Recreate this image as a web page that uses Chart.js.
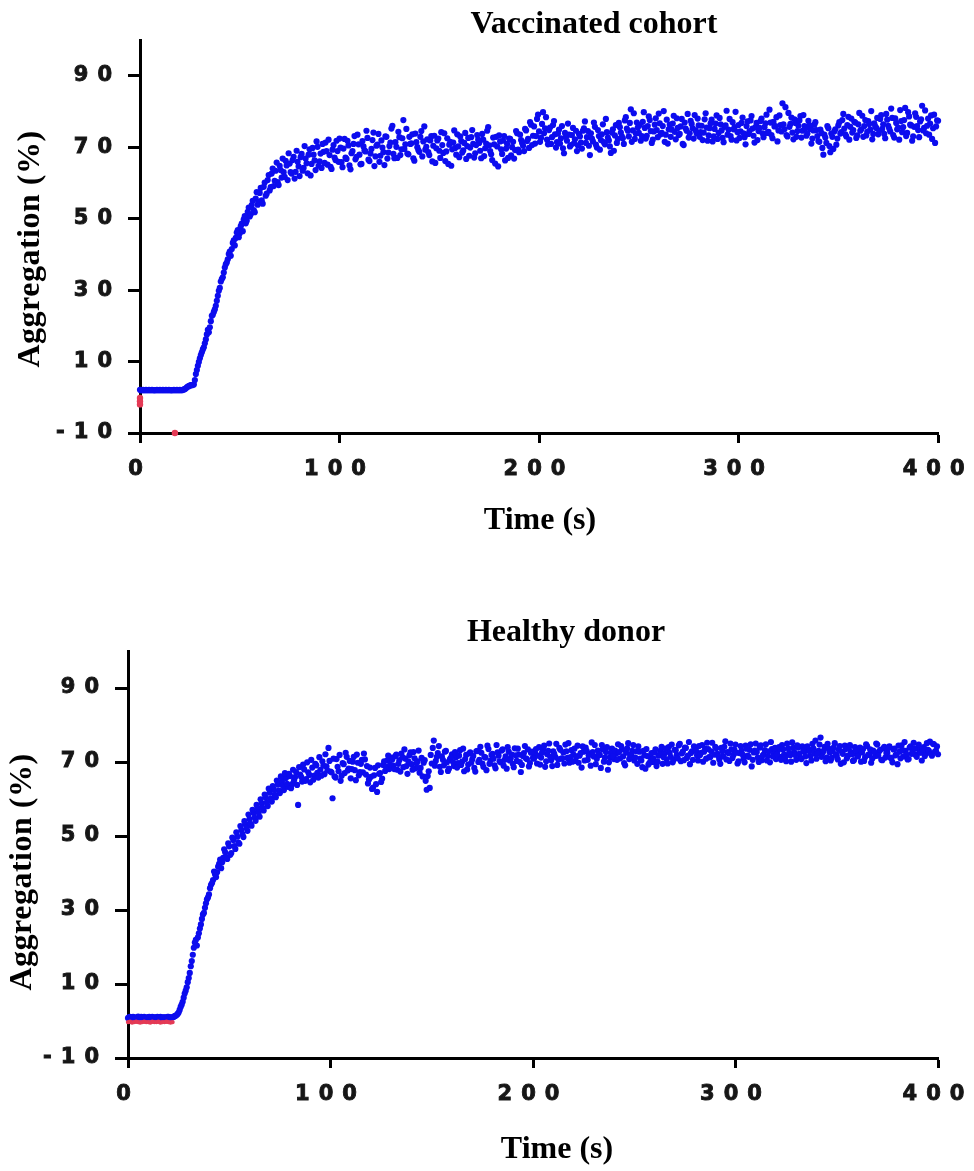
<!DOCTYPE html>
<html>
<head>
<meta charset="utf-8">
<script src="https://cdn.jsdelivr.net/npm/chart.js@4.4.1/dist/chart.umd.min.js"></script>
<style>
html,body{margin:0;padding:0;background:#fff;}
body{width:974px;height:1171px;position:relative;overflow:hidden;}
.box{position:absolute;left:0;width:974px;}
#b1{top:0;height:580px;}
#b2{top:590px;height:581px;}
</style>
</head>
<body>
<div class="box" id="b1"><canvas id="c1" width="974" height="580"></canvas></div>
<div class="box" id="b2"><canvas id="c2" width="974" height="581"></canvas></div>
<script>
// ---- data ----
const yTicks = [-10, 10, 30, 50, 70, 90];
const xTicks = [0, 100, 200, 300, 400];
const sampleIntervalSeconds = 1;     // readings at t = 0, 1, 2 ... 400 s
const halfSampleOffsetSeconds = 0.5; // interleaved readings at t = 0.5, 1.5 ... 399.5 s

// Vaccinated cohort, readings on the whole second
const vaccinatedAggregation = [
2.1,2.0,2.0,2.1,2.0,2.0,2.1,2.0,2.0,2.0,2.1,2.0,2.0,2.1,2.0,2.0,2.0,2.1,2.0,2.0,2.1,2.0,
2.2,2.5,3.0,3.3,3.4,3.6,
6.5,8.8,10.9,12.6,14.0,16.2,18.9,19.6,22.8,23.9,
25.6,28.4,30.6,33.1,34.9,37.2,38.6,40.8,41.5,43.9,
44.6,46.8,45.9,48.6,49.8,48.7,51.9,50.6,53.8,52.4,
55.6,53.9,57.2,55.1,58.9,56.4,60.8,57.9,62.6,59.1,
63.4,60.2,64.8,61.5,63.0,66.2,60.8,65.4,62.6,67.3,
63.1,65.9,61.9,68.1,64.2,66.8,62.7,69.4,65.3,67.9,
63.6,70.1,66.0,64.2,68.7,71.3,65.1,67.8,63.9,70.6,
66.4,68.9,72.4,
65.8,69.6,67.1,71.8,64.9,68.3,70.9,66.6,73.5,67.9,
65.3,70.2,68.8,72.6,66.1,69.5,74.1,67.4,70.7,65.9,
71.9,68.6,73.0,66.8,70.3,75.2,68.1,71.4,67.0,72.8,
69.4,77.6,70.8,68.2,72.9,71.1,66.9,73.8,70.0,68.7,
74.5,71.6,69.3,72.2,67.8,73.1,70.4,65.6,71.9,69.0,
74.2,68.4,66.1,72.5,70.7,64.8,71.3,69.8,73.6,67.2,
71.7,69.1,74.0,70.3,67.6,72.8,70.9,68.3,73.4,71.2,
66.9,72.1,69.7,74.6,70.5,68.0,72.7,65.4,70.2,73.3,
69.4,71.8,66.3,70.9,72.4,67.7,71.5,69.2,73.9,68.6,
72.0,70.4,75.1,71.7,69.8,76.3,73.2,71.0,77.9,74.4,
72.6,79.8,75.3,72.1,74.8,70.9,76.2,73.6,71.4,74.9,
72.5,69.7,74.0,71.8,73.5,70.6,75.4,72.2,68.9,73.7,
71.3,74.6,77.2,72.8,70.4,73.9,71.6,75.7,69.9,73.1,
72.0,76.4,70.8,74.2,71.9,68.4,75.0,73.3,71.2,76.8,
74.1,72.5,77.5,75.2,73.0,80.6,74.7,72.3,76.9,74.0,
71.8,77.1,75.4,73.2,78.6,74.5,72.1,76.3,74.8,79.4,
73.6,75.9,71.5,77.7,75.0,72.9,76.6,74.3,78.1,73.4,
75.8,70.9,76.9,74.6,72.7,77.4,75.3,79.0,73.8,76.1,
74.2,72.0,77.8,75.5,73.3,76.7,71.6,75.1,78.9,74.0,
76.4,72.6,75.7,80.2,74.9,73.1,77.0,75.6,71.9,76.2,
74.4,78.3,72.8,75.9,73.7,77.5,75.2,71.3,76.8,74.5,
77.3,73.9,75.6,79.1,74.3,76.9,72.5,75.8,78.4,74.7,
76.2,82.3,75.0,73.4,79.6,76.5,74.1,77.8,72.9,76.0,
78.7,74.6,75.9,73.2,77.4,75.1,72.4,76.3,74.8,71.7,
74.9,69.8,73.5,71.2,75.3,68.6,72.9,74.4,70.7,76.1,
73.8,77.6,75.2,73.0,78.5,75.7,74.1,77.1,72.6,76.4,
74.6,78.8,75.9,73.3,77.3,74.9,72.2,76.7,75.4,73.6,
77.9,75.1,73.7,79.3,76.0,74.4,78.2,72.7,76.8,75.5,
80.4,74.2,77.6,73.1,79.8,76.3,71.8,75.7,78.5,74.8,
77.2,81.6,75.4,73.9,78.0,76.6,72.3,79.1,75.8,77.4
];

// Vaccinated cohort, readings on the half second
const vaccinatedAggregationHalf = [
2.0,2.1,2.0,2.0,2.1,2.0,2.0,2.0,2.1,2.0,2.0,2.1,2.0,2.0,2.1,2.0,2.0,2.0,2.1,2.0,2.0,2.1,
2.3,2.8,3.1,3.4,3.5,4.8,
7.6,9.9,11.8,13.4,15.1,17.6,18.2,21.3,23.1,24.6,
27.0,29.8,32.4,33.6,36.3,37.7,40.1,39.6,43.2,42.5,
46.1,44.8,47.9,46.5,50.7,49.4,53.1,51.2,55.0,51.8,
57.4,54.6,58.6,54.2,60.1,57.0,62.2,58.8,64.0,60.6,
65.7,59.4,63.6,66.8,61.7,64.9,68.3,63.0,66.4,61.2,
69.0,64.6,67.2,63.4,70.3,65.5,67.9,62.1,69.8,66.3,
71.6,64.8,68.2,70.9,65.6,68.9,72.1,64.5,69.3,67.1,
71.8,65.9,
69.9,64.4,72.3,66.7,70.5,63.8,68.9,73.1,67.3,70.8,
65.2,71.7,69.1,74.6,66.5,68.2,72.0,64.7,70.4,73.7,
67.6,69.9,65.0,72.9,68.5,71.3,76.0,66.9,70.1,74.3,
67.8,72.5,69.5,75.1,68.0,70.9,73.6,66.2,71.4,69.2,
72.9,67.4,75.8,70.1,68.6,71.9,66.0,73.2,69.7,72.4,
67.0,70.6,73.9,68.8,65.3,71.5,69.4,74.7,67.9,70.2,
73.0,68.5,71.2,66.7,72.6,69.9,74.8,67.1,70.6,72.1,
69.0,73.7,67.5,71.0,75.6,68.9,66.4,70.8,72.9,64.6,
71.6,68.1,73.1,69.6,67.0,72.3,70.0,66.8,74.5,69.3,
73.5,71.2,68.9,74.7,72.3,77.0,70.6,75.8,73.1,79.1,
71.5,76.5,73.9,78.4,70.8,75.5,72.8,77.3,69.9,73.8,
71.0,75.9,68.3,72.9,76.6,70.2,73.4,71.1,74.6,70.5,
73.0,69.6,75.3,71.2,74.5,67.8,72.4,76.9,70.7,74.8,
69.3,73.6,71.4,77.9,72.7,70.2,74.1,69.0,76.2,72.3,
75.6,73.0,70.9,78.4,74.6,76.8,71.5,79.5,73.8,75.5,
76.2,73.1,79.8,72.4,75.9,77.6,71.2,74.4,78.1,72.8,
76.7,74.0,80.1,73.5,71.0,76.3,74.9,78.8,72.2,75.4,
73.7,77.9,70.6,75.2,79.3,73.9,76.5,72.4,74.7,78.0,
72.9,76.0,74.1,79.5,71.8,75.3,77.7,73.0,76.6,72.3,
78.2,74.7,71.4,76.1,73.5,77.9,72.1,75.0,79.9,74.2,
72.6,76.8,73.9,70.8,77.2,74.5,78.7,73.2,75.6,72.0,
75.4,78.0,72.8,76.7,74.0,80.5,73.4,77.1,75.9,71.6,
78.9,74.4,76.4,81.2,73.0,75.7,78.3,72.2,76.8,74.5,
77.5,72.7,79.0,75.2,73.8,76.2,71.0,74.7,77.0,73.1,
71.5,74.0,67.9,72.7,75.9,70.3,73.8,69.5,75.0,72.4,
77.0,74.2,79.3,73.6,76.2,72.1,78.0,74.8,76.9,73.3,
79.6,75.0,72.9,77.6,74.3,76.5,80.1,73.7,75.8,78.2,
74.5,79.0,76.4,72.5,77.7,75.2,80.8,73.4,78.1,75.0,
72.1,77.3,75.6,81.0,74.0,78.6,76.1,73.0,79.5,75.9,
72.8,77.8,74.7,80.3,76.0,73.5,78.9,75.3,71.2,77.5
];

// Healthy donor, readings on the whole second
const healthyAggregation = [
0.8,1.1,0.9,1.0,0.8,1.2,0.9,1.0,1.1,0.8,1.0,0.9,1.1,0.9,0.8,1.0,1.1,0.9,1.0,0.8,1.1,0.9,1.0,
1.3,1.6,2.3,3.8,5.2,7.4,9.1,11.6,14.8,17.9,
21.2,20.4,23.7,26.1,28.8,30.6,32.9,34.2,36.8,38.1,
39.6,40.2,42.5,41.3,44.1,45.6,43.8,47.2,45.4,48.9,
46.5,49.8,47.9,51.6,49.7,53.2,51.4,54.6,52.8,56.3,
54.1,57.5,55.2,58.8,56.9,60.4,58.1,61.7,59.3,62.6,
60.5,63.9,61.6,64.8,62.4,65.7,63.3,66.2,64.0,65.1,
67.3,58.4,66.6,64.7,68.0,65.4,67.2,64.5,68.5,66.3,
69.1,65.8,67.9,70.2,66.7,68.8,73.8,67.4,
60.2,66.1,70.8,67.5,64.9,69.7,67.0,71.4,68.2,65.6,
70.1,67.8,72.0,66.4,69.5,67.2,70.7,68.9,65.3,66.0,
63.1,68.4,61.9,66.8,64.6,69.2,67.6,70.4,68.1,71.2,
69.0,71.6,67.9,70.5,72.3,68.6,70.9,66.8,71.8,69.4,
72.7,68.3,70.2,67.1,71.1,69.8,64.9,66.2,63.0,69.6,
75.8,70.3,72.4,68.7,71.5,69.1,73.0,67.6,70.8,72.1,
68.9,71.3,69.7,73.2,70.1,67.5,71.9,69.3,72.6,70.7,
68.4,72.9,70.0,74.1,69.6,71.4,67.8,73.5,70.4,72.2,
69.1,74.6,71.7,69.9,73.4,70.6,68.2,72.8,71.0,69.5,
73.7,70.3,72.0,67.3,71.6,74.3,70.8,68.8,72.5,71.1,
72.4,69.6,74.0,71.2,73.3,68.7,72.1,75.0,70.5,72.9,
71.4,69.2,73.8,70.9,72.6,74.7,71.1,69.8,73.2,72.0,
70.3,74.4,71.7,68.5,72.8,73.9,70.6,72.3,75.3,71.5,
69.4,73.1,71.9,74.6,70.1,72.7,67.9,71.3,73.6,70.8,
72.2,74.8,71.0,73.4,69.7,72.5,75.1,71.6,73.0,70.4,
72.9,74.2,70.9,68.6,71.8,73.5,69.3,71.2,70.0,72.6,
68.9,71.7,73.1,69.5,72.3,70.7,74.0,71.4,69.9,73.3,
71.9,74.5,70.2,72.8,73.9,71.1,75.4,72.4,70.6,73.7,
71.8,74.3,72.5,70.1,73.6,75.2,71.3,72.9,69.8,74.1,
72.2,70.7,73.8,71.5,75.6,72.7,70.3,73.4,71.9,74.7,
69.6,72.4,73.1,70.9,74.4,71.7,73.3,68.8,72.6,75.0,
71.2,73.9,70.5,72.1,74.8,71.6,69.9,73.5,72.3,70.8,
73.2,71.4,74.6,72.0,70.2,73.7,71.8,75.3,72.6,70.6,
73.9,71.1,74.2,72.8,69.7,73.4,71.6,74.9,72.3,70.9,
73.0,76.6,72.5,74.1,71.2,73.6,70.4,72.9,75.1,71.7,
73.3,69.5,72.2,74.4,71.0,73.8,72.7,70.3,74.0,71.9,
72.4,70.1,73.5,71.3,74.3,72.0,69.8,73.1,71.6,74.7,
72.9,70.6,73.7,71.2,72.5,74.2,70.9,73.4,71.8,69.4,
72.8,74.5,71.5,73.0,70.7,73.9,72.2,75.2,71.9,73.6,
72.6,70.4,74.0,72.3,73.3,75.5,71.7,74.8,73.0,72.1
];

// Healthy donor, readings on the half second
const healthyAggregationHalf = [
1.0,0.9,1.1,0.8,1.0,1.0,1.1,0.9,0.8,1.0,1.1,1.0,0.9,1.0,1.1,0.9,0.8,1.0,0.9,1.1,1.0,0.9,1.1,
1.4,1.9,3.0,4.4,6.3,8.2,10.5,13.0,16.2,19.8,
21.9,22.6,25.0,27.6,29.2,31.8,33.4,35.9,37.3,40.4,
38.9,41.7,43.6,42.9,46.4,44.2,48.0,44.9,49.6,47.3,
51.0,48.2,52.7,50.5,54.0,52.2,55.8,53.3,57.1,55.0,
58.4,56.3,59.9,57.6,61.2,59.0,62.8,60.1,63.5,61.1,
65.0,62.3,66.1,63.6,67.0,64.1,66.8,62.9,67.9,65.9,
63.8,68.6,66.0,69.3,64.9,69.9,66.5,70.6,65.2,69.5,
67.1,71.3,66.3,69.0,72.1,67.7,70.3,
67.2,70.9,65.8,68.7,71.9,66.3,69.4,72.5,67.7,70.3,
68.1,71.4,65.1,69.8,67.3,70.6,72.3,66.6,64.2,68.5,
62.7,66.4,64.0,69.1,67.0,65.5,70.2,68.7,71.7,69.3,
70.7,68.1,72.0,69.5,67.4,71.3,73.4,68.9,70.1,72.6,
67.9,71.0,69.6,73.1,68.4,66.1,70.5,62.5,67.5,71.9,
73.8,69.0,71.4,74.3,67.3,70.6,72.8,69.9,68.2,71.2,
70.0,72.7,68.5,71.7,69.2,73.6,70.8,68.0,72.3,69.8,
71.6,67.4,73.0,70.6,72.5,68.7,71.2,74.4,69.5,71.9,
70.9,68.3,72.6,70.2,73.1,69.0,71.5,74.0,70.4,72.0,
68.6,71.8,73.6,70.0,69.2,72.4,71.0,73.4,69.7,72.8,
70.9,73.5,71.7,69.3,72.6,74.4,70.2,73.0,71.4,68.9,
72.2,74.9,70.7,73.3,71.0,69.6,72.9,75.1,71.3,70.1,
73.6,71.5,69.8,72.4,74.2,70.4,73.0,71.8,69.0,72.7,
74.6,70.9,72.1,68.4,73.4,71.2,74.0,69.9,72.5,71.6,
73.1,70.6,72.7,74.3,71.5,69.1,73.7,70.8,72.1,74.6,
71.2,69.5,72.8,70.4,73.0,68.2,71.6,69.8,72.4,70.9,
73.4,70.1,72.0,74.1,71.3,73.6,69.6,72.5,74.7,70.7,
73.2,71.0,74.9,72.3,70.5,73.8,71.7,69.4,72.9,74.2,
73.0,70.4,71.9,74.6,72.8,70.9,73.5,71.3,75.2,72.0,
73.7,71.6,69.5,72.9,74.1,70.7,72.4,75.0,71.1,73.3,
72.5,70.2,74.3,72.0,69.9,73.6,71.4,74.8,70.6,73.1,
72.7,70.0,74.5,71.8,73.2,70.4,72.9,75.4,71.5,73.8,
72.1,74.0,70.6,73.4,71.3,75.0,72.5,70.1,73.8,71.9,
74.5,72.2,70.8,73.1,71.5,74.2,72.9,70.4,73.6,75.8,
72.3,74.7,71.4,73.0,70.2,74.9,72.6,71.1,73.9,72.0,
70.7,74.3,72.8,69.9,73.5,71.7,74.6,72.1,70.5,73.2,
71.5,73.9,72.6,70.3,74.8,71.9,73.4,70.9,72.7,75.0,
71.7,73.3,70.5,74.1,72.4,73.8,71.2,69.9,73.6,72.1,
74.4,71.0,73.2,75.4,72.0,70.8,74.2,72.9,73.7,71.4,
74.7,72.5,73.5,71.6,75.1,73.0,72.2,74.9,72.8,74.2
];

// red (baseline) readings
const vaccinatedBaselineTime = [0, 0, 0, 17.5];
const vaccinatedBaseline = [-0.2, -1.1, -2.0, -10];
const healthyBaselineTime = [0,1,2,3,4,5,6,7,8,9,10,11,12,13,14,15,16,17,18,19,20,21,22];
const healthyBaseline = [-0.3,-0.2,-0.4,-0.3,-0.2,-0.3,-0.4,-0.3,-0.2,-0.3,-0.3,-0.4,-0.2,-0.3,-0.3,-0.2,-0.4,-0.3,-0.3,-0.2,-0.3,-0.4,-0.3];

const chartTitles = ['Vaccinated cohort', 'Healthy donor'];
const xTitle = 'Time (s)';
const yTitle = 'Aggregation (%)';

// ---- drawing ----
const BLUE = '#0c0cee';
const RED = '#e43a55';
const TICK_FONT = {family: '"DejaVu Sans", sans-serif', size: 21, weight: 'bold'};

const textPlugin = {
  id: 'texts',
  beforeDraw(chart) { chart.ctx.letterSpacing = '9px'; },
  afterDraw(chart, args, o) {
    const ctx = chart.ctx;
    ctx.save();
    ctx.letterSpacing = '0px';
    ctx.fillStyle = '#000';
    ctx.textAlign = 'center';
    ctx.textBaseline = 'middle';
    ctx.font = 'bold 32px "Liberation Serif", "Times New Roman", serif';
    ctx.fillText(o.title, o.titleX, o.titleY);
    ctx.fillText(xTitle, o.xTitleX, o.xTitleY);
    ctx.translate(o.yTitleX, o.yTitleY);
    ctx.rotate(-Math.PI / 2);
    ctx.letterSpacing = '0.5px';
    ctx.fillText(yTitle, 0, 0);
    ctx.restore();
    ctx.letterSpacing = '0px';
  }
};

function toPoints(times, values, offset) {
  return values.map((v, i) => ({x: times ? times[i] : i * sampleIntervalSeconds + offset, y: v}));
}

function makeChart(id, g) {
  const blue = toPoints(null, g.values, 0).concat(toPoints(null, g.halfValues, halfSampleOffsetSeconds));
  return new Chart(document.getElementById(id), {
    type: 'scatter',
    data: {
      datasets: [
        {data: blue, order: 1, pointRadius: 3.1, pointBorderWidth: 0, clip: false,
         pointBackgroundColor: BLUE, backgroundColor: BLUE, showLine: false},
        {data: toPoints(g.baseTimes, g.baseValues, 0), order: 0, pointRadius: g.redRadius, pointBorderWidth: 0,
         clip: false, pointBackgroundColor: RED, backgroundColor: RED, showLine: false}
      ]
    },
    options: {
      responsive: false,
      animation: false,
      events: [],
      devicePixelRatio: 1,
      layout: {padding: {left: 0, top: g.padTop, right: g.padRight, bottom: 0}},
      plugins: {
        legend: {display: false},
        tooltip: {enabled: false},
        texts: {title: g.title, titleX: g.titleX, titleY: g.titleY,
                xTitleX: g.xTitleX, xTitleY: g.xTitleY, yTitleX: g.yTitleX, yTitleY: g.yTitleY}
      },
      scales: {
        x: {
          type: 'linear', min: 0, max: 400,
          afterBuildTicks: s => { s.ticks = xTicks.map(v => ({value: v})); },
          afterFit: s => { s.height = g.xAxisH; },
          border: {display: true, color: '#000', width: 3},
          grid: {drawOnChartArea: false, drawTicks: true, tickLength: g.xTickLen, tickWidth: 3, tickColor: '#000'},
          ticks: {font: TICK_FONT, color: '#161616', textStrokeColor: '#161616', textStrokeWidth: 0.9,
                  padding: 14, maxRotation: 0, autoSkip: false}
        },
        y: {
          type: 'linear', min: -10, max: 100,
          afterBuildTicks: s => { s.ticks = yTicks.map(v => ({value: v})); },
          afterFit: s => { s.width = g.yAxisW; },
          border: {display: true, color: '#000', width: 3},
          grid: {drawOnChartArea: false, drawTicks: true, tickLength: g.yTickLen, tickWidth: 3, tickColor: '#000'},
          ticks: {font: TICK_FONT, color: '#161616', textStrokeColor: '#161616', textStrokeWidth: 0.9,
                  padding: 7, autoSkip: false}
        }
      }
    },
    plugins: [textPlugin]
  });
}

makeChart('c1', {
  values: vaccinatedAggregation, halfValues: vaccinatedAggregationHalf,
  baseTimes: vaccinatedBaselineTime, baseValues: vaccinatedBaseline, redRadius: 3.2,
  padTop: 40, padRight: 35, yAxisW: 140, xAxisH: 147, xTickLen: 10, yTickLen: 12,
  title: chartTitles[0], titleX: 594, titleY: 25,
  xTitleX: 540, xTitleY: 521, yTitleX: 31, yTitleY: 249
});
makeChart('c2', {
  values: healthyAggregation, halfValues: healthyAggregationHalf,
  baseTimes: healthyBaselineTime, baseValues: healthyBaseline, redRadius: 2.2,
  padTop: 61, padRight: 36, yAxisW: 128, xAxisH: 113, xTickLen: 10, yTickLen: 13,
  title: chartTitles[1], titleX: 566, titleY: 43,
  xTitleX: 557, xTitleY: 560, yTitleX: 23, yTitleY: 282
});
</script>
</body>
</html>
